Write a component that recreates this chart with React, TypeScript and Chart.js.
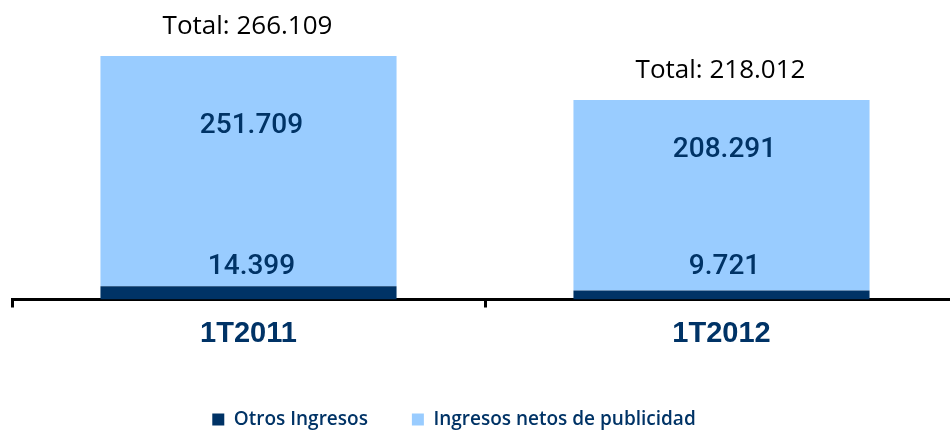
import React, { useEffect, useRef } from "react";
import { Chart, registerables } from "chart.js";

Chart.register(...registerables);

const categories = ["1T2011", "1T2012"];
const otrosIngresos = [14.399, 9.721];
const ingresosPublicidad = [251.709, 208.291];
const totals = [266.109, 218.012];
const otrosLabels = ["14.399", "9.721"];
const publicidadLabels = ["251.709", "208.291"];
const totalLabels = ["Total: 266.109", "Total: 218.012"];
const seriesNames = ["Otros Ingresos", "Ingresos netos de publicidad"];

const NAVY = "#003366";
const LIGHT = "#99CCFF";

const labelPlugin = {
  id: "valueLabels",
  afterLayout(chart: any) {
    if (chart.legend) {
      chart.legend.left -= 31;
      chart.legend.right -= 31;
    }
  },
  afterDatasetsDraw(chart: any) {
    const ctx = chart.ctx;
    const dark = chart.getDatasetMeta(0).data;
    const light = chart.getDatasetMeta(1).data;
    ctx.save();
    ctx.textAlign = "center";
    ctx.textBaseline = "middle";
    for (let i = 0; i < categories.length; i++) {
      const d = dark[i];
      const l = light[i];
      ctx.fillStyle = NAVY;
      ctx.font = "500 28px Roboto";
      ctx.fillText(otrosLabels[i], d.x + 3, d.base - 33);
      ctx.fillText(publicidadLabels[i], l.x + 3, (l.y + l.base) / 2 - 45);
      ctx.fillStyle = "#000";
      ctx.font = "26px 'Open Sans'";
      ctx.fillText(totalLabels[i], l.x - 1, l.y - 29);
    }
    ctx.restore();
  },
};

export default function App() {
  const ref = useRef<HTMLCanvasElement>(null);
  useEffect(() => {
    if (!ref.current) return;
    const chart = new Chart(ref.current, {
      type: "bar",
      data: {
        labels: categories,
        datasets: [
          {
            label: seriesNames[0],
            data: otrosIngresos,
            backgroundColor: NAVY,
            barPercentage: 0.626,
            categoryPercentage: 1,
          },
          {
            label: seriesNames[1],
            data: ingresosPublicidad,
            backgroundColor: LIGHT,
            barPercentage: 0.626,
            categoryPercentage: 1,
          },
        ],
      },
      options: {
        responsive: false,
        animation: false,
        layout: { padding: { top: 25, left: 12, right: 2, bottom: 0 } },
        plugins: {
          tooltip: { enabled: false },
          legend: {
            position: "bottom",
            labels: {
              boxWidth: 12,
              boxHeight: 12,
              padding: 44,
              color: NAVY,
              font: { family: "'Open Sans'", size: 19, weight: "600" },
            },
          },
        },
        scales: {
          x: {
            stacked: true,
            z: 1,
            grid: {
              display: true,
              drawOnChartArea: false,
              drawTicks: true,
              tickLength: 8,
              color: "#000",
              lineWidth: 3,
            },
            border: { display: true, color: "#000", width: 3 },
            ticks: {
              color: NAVY,
              padding: 9,
              font: { family: "'Liberation Sans', Arial", size: 29, weight: "bold" },
            },
            afterFit: (scale: any) => {
              scale.height = 66.5;
            },
          },
          y: {
            stacked: true,
            display: false,
            min: 0,
            max: 300,
          },
        },
      },
      plugins: [labelPlugin],
    });
    return () => chart.destroy();
  }, []);
  return (
    <div
      style={{
        position: "fixed",
        left: 0,
        top: 0,
        width: 950,
        height: 431,
        overflow: "hidden",
        background: "#fff",
      }}
    >
      <canvas ref={ref} width={960} height={439} style={{ display: "block" }} />
    </div>
  );
}
